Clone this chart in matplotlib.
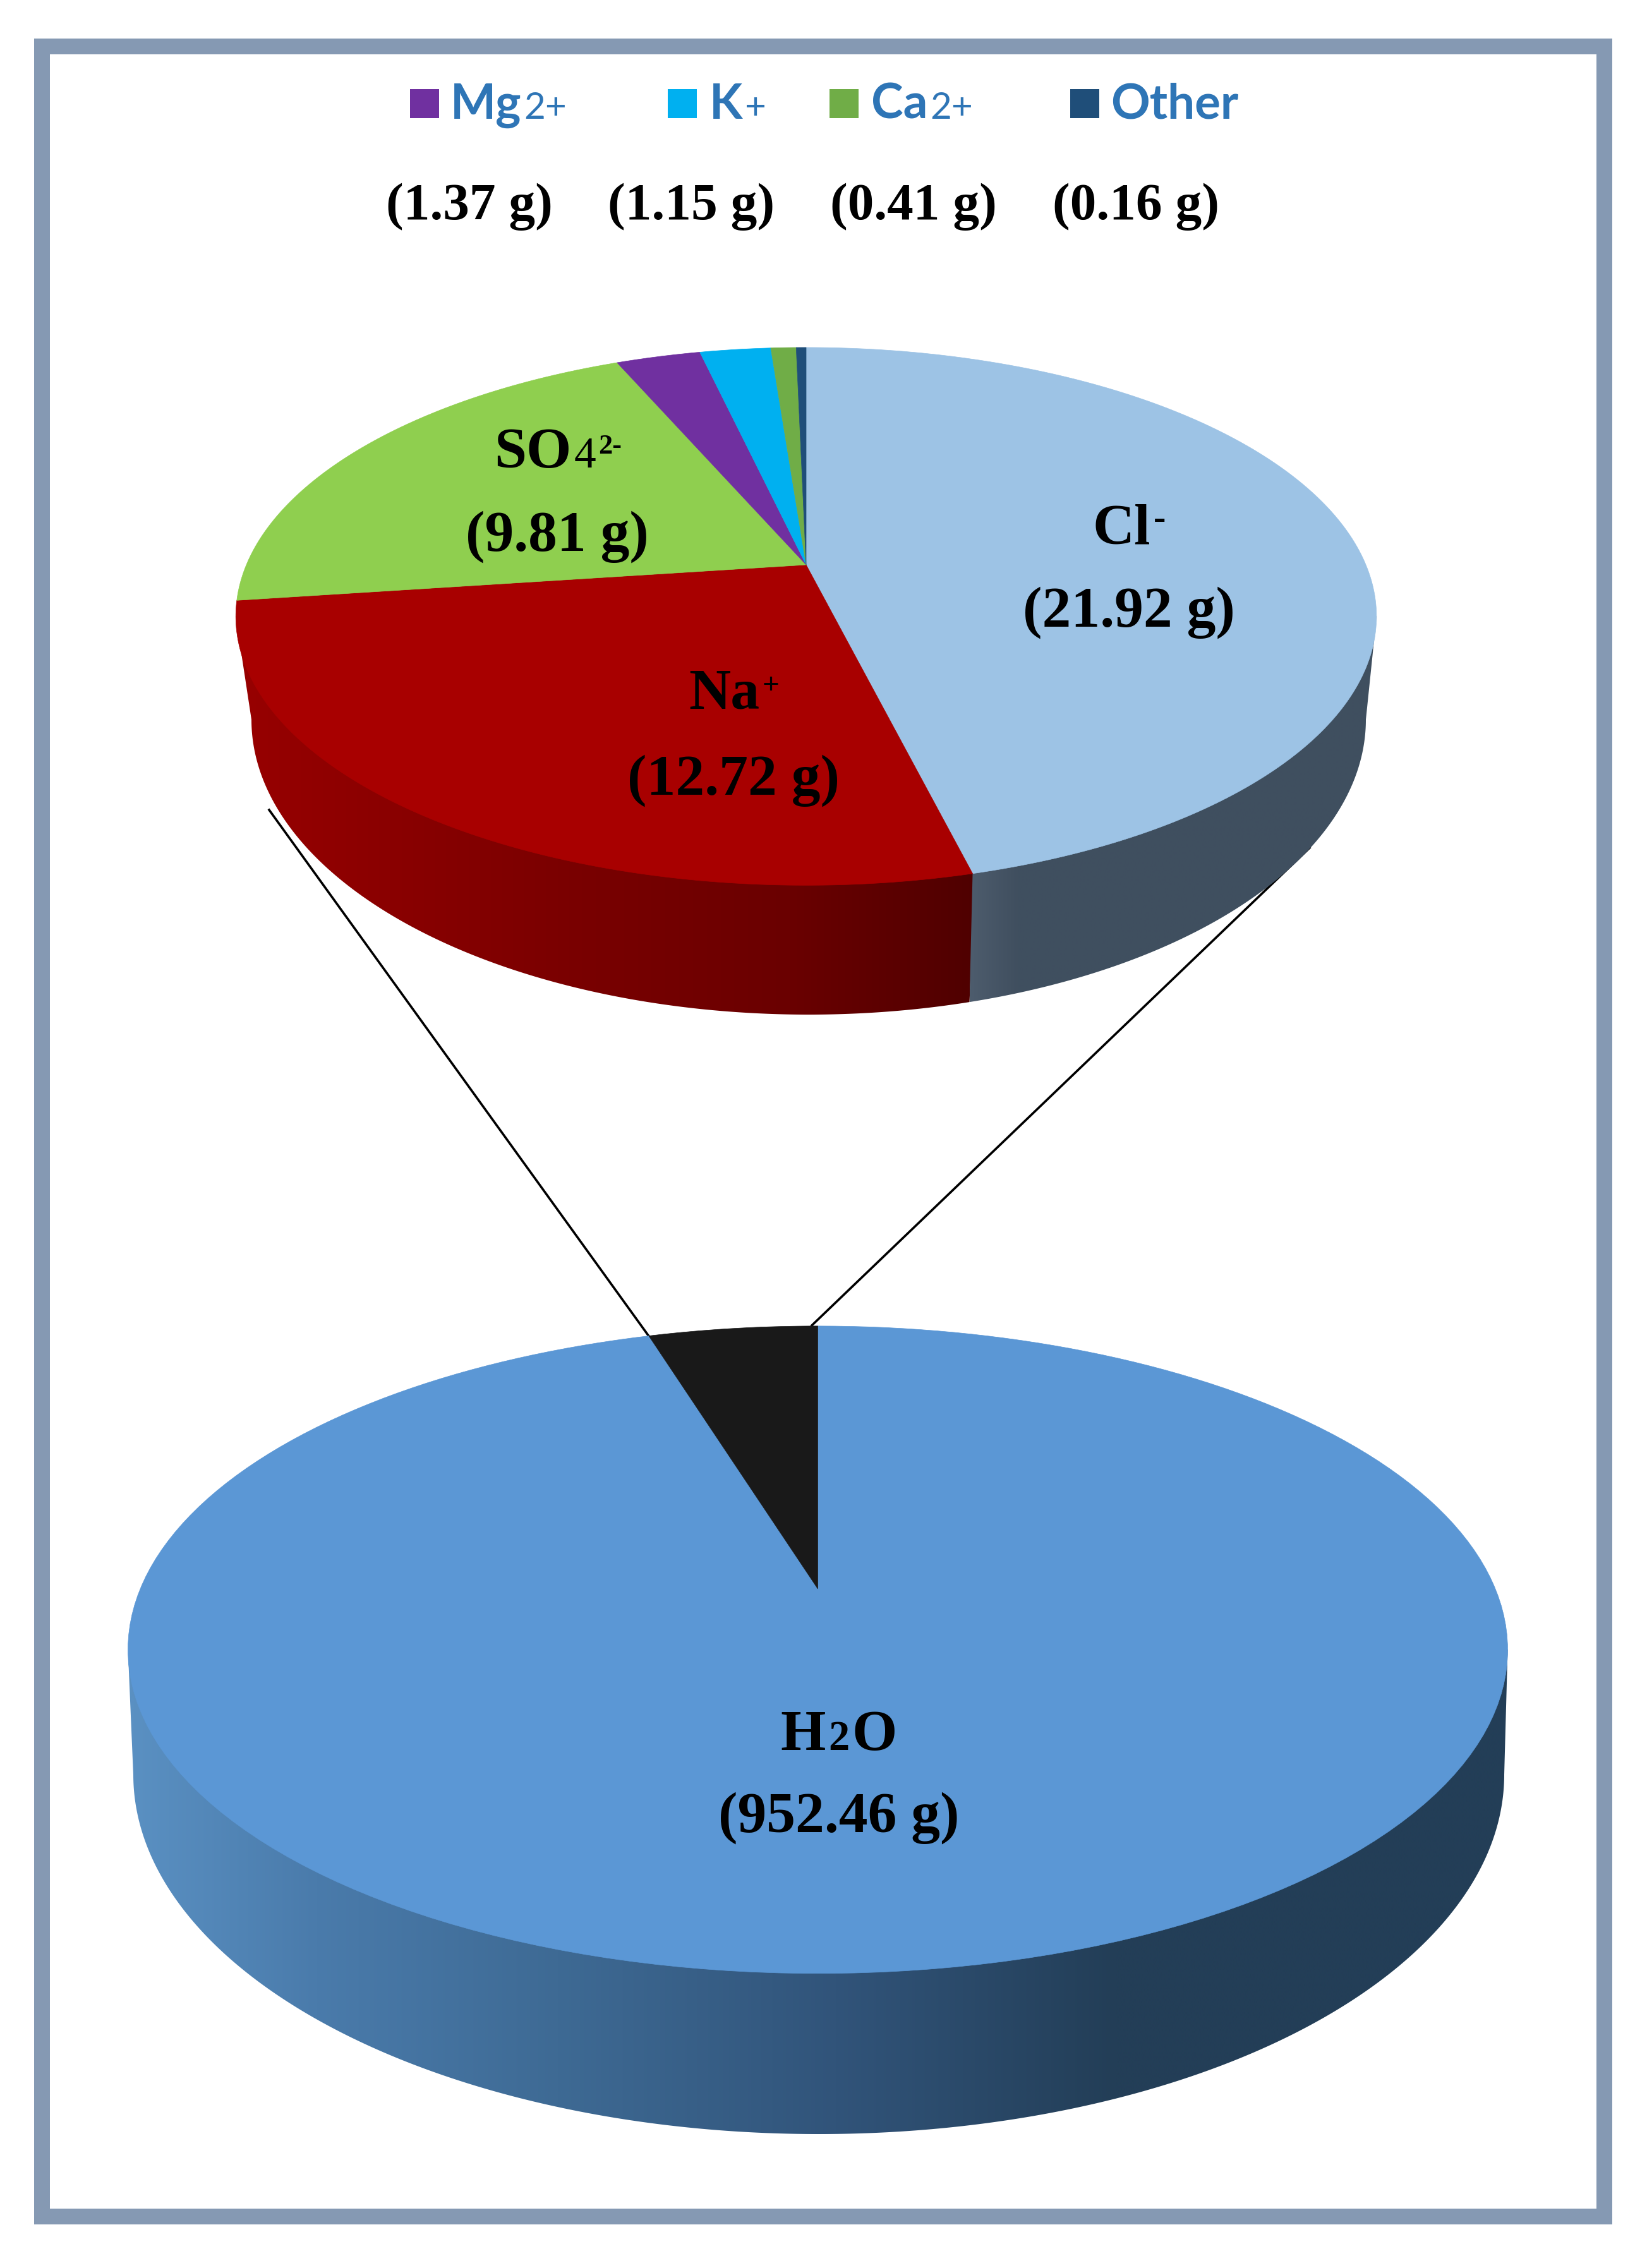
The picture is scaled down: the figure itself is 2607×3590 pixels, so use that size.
import numpy as np
import matplotlib
matplotlib.use('Agg')
import matplotlib.pyplot as plt
from matplotlib.patches import Polygon, Rectangle
from matplotlib.colors import to_rgb

# Data (grams)
ion_names = ['Cl', 'Na', 'SO4', 'Mg', 'K', 'Ca', 'Other']
ion_masses = [21.92, 12.72, 9.81, 1.37, 1.15, 0.41, 0.16]
ion_colors = ['#9DC3E5', '#A80000', '#8FCF4F', '#7030A0', '#00B0F0', '#70AD47', '#1F4E79']
water_masses = [952.46, 47.54]
water_colors = ['#5B97D5', '#191919']
legend_names = ['Mg', 'K', 'Ca', 'Other']
legend_sups = ['2+', '+', '2+', '']
legend_colors = ['#7030A0', '#00B0F0', '#70AD47', '#1F4E79']
small_masses = [1.37, 1.15, 0.41, 0.16]

SERIF = 'Liberation Serif'
SANS = 'Lato'
BLACK = '#000000'
LEG_BLUE = '#2E75B6'

fig = plt.figure(figsize=(26.07, 35.91), dpi=100)
ax = fig.add_axes([0, 0, 1, 1])
ax.set_xlim(0, 2607)
ax.set_ylim(3591, 0)
ax.axis('off')


# Perspective disc, angle is clockwise from the top
def disc_xy(theta, geo):
    s = np.cos(theta)
    c = np.sin(theta)
    w = 1 + geo['k'] * s
    return geo['cx'] + geo['a'] * c / w, geo['apex'] - geo['b'] * s / w


def gradient_fill(pts, stops):
    pts = np.asarray(pts)
    xs = np.linspace(pts[:, 0].min(), pts[:, 0].max(), 600)
    pos = [p for p, _ in stops]
    rgb = np.array([to_rgb(c) for _, c in stops])
    img = np.stack([np.interp(xs, pos, rgb[:, i]) for i in range(3)], axis=-1)[None, :, :]
    im = ax.imshow(img, extent=(xs[0], xs[-1], pts[:, 1].max(), pts[:, 1].min()),
                   aspect='auto', interpolation='bilinear', zorder=2)
    im.set_clip_path(Polygon(pts, closed=True, transform=ax.transData))


def lower_arc(geo):
    # left to right along the bottom of the wall
    phi = np.linspace(np.pi, 0, 500)
    return geo['wall_cx'] + geo['wall_rx'] * np.cos(phi), geo['wall_cy'] + geo['wall_ry'] * np.sin(phi)


def draw_wall(geo, stops):
    ax_x, ax_y = lower_arc(geo)
    left = [geo['cx'] - geo['extent'], geo['cy']]
    right = [geo['cx'] + geo['extent'], geo['cy']]
    pts = np.vstack([[left], np.column_stack([ax_x, ax_y]), [right]])
    gradient_fill(pts, stops)


def draw_split_wall(geo, split_theta, left_stops, right_stops):
    ax_x, ax_y = lower_arc(geo)
    sx, sy = disc_xy(split_theta, geo)
    low_x = sx - 6
    left = [geo['cx'] - geo['extent'], geo['cy']]
    right = [geo['cx'] + geo['extent'], geo['cy']]
    # the left part runs a little past the split, right part is drawn over it
    m = ax_x <= low_x + 4
    gradient_fill(np.vstack([[left], np.column_stack([ax_x[m], ax_y[m]]), [[sx + 4, sy]]]), left_stops)
    m = ax_x > low_x
    gradient_fill(np.vstack([[[sx, sy]], np.column_stack([ax_x[m], ax_y[m]]), [right]]), right_stops)


def draw_disc(values, colors, geo):
    edges = np.cumsum([0] + list(values)) / np.sum(values) * 2 * np.pi
    for i in range(len(values)):
        t = np.linspace(edges[i], edges[i + 1], 200)
        x, y = disc_xy(t, geo)
        px = np.r_[geo['cx'], x]
        py = np.r_[geo['apex'], y]
        ax.add_patch(Polygon(np.column_stack([px, py]), closed=True, facecolor=colors[i],
                             edgecolor=colors[i], linewidth=0.5, zorder=3))
    return edges


def rich_text(x, y, pieces, center=True):
    # pieces: (text, size, weight, family, color, raise)
    renderer = fig.canvas.get_renderer()
    items = []
    total = 0
    for txt, size, weight, family, color, up in pieces:
        t = ax.text(0, y - up, txt, fontsize=size, fontweight=weight, family=family,
                    color=color, va='baseline', ha='left', zorder=5)
        w = t.get_window_extent(renderer).width + size * 0.07
        items.append((t, w))
        total += w
    cur = x - total / 2 if center else x
    for t, w in items:
        t.set_x(cur)
        cur += w


top_geo = dict(cx=1276, apex=895, a=886, b=410, k=0.1918, cy=976, extent=903,
               wall_cx=1280, wall_cy=1140, wall_rx=882, wall_ry=467)
low_geo = dict(cx=1294.5, apex=2516, a=1072.5, b=494.3, k=0.188, cy=2612, extent=1092,
               wall_cx=1296, wall_cy=2810, wall_rx=1085, wall_ry=569)

# Frame
ax.add_patch(Rectangle((65.5, 73.5), 2473.5, 3436, facecolor='white', edgecolor='#8599B3',
                       linewidth=18, zorder=0))

# Connector lines run behind the small pie
ax.plot([426, 1027], [1283, 2116], color='black', lw=2.6, zorder=1)
ax.plot([2073, 1285], [1343, 2099], color='black', lw=2.6, zorder=1)

# Side walls
edges = np.cumsum([0] + ion_masses) / np.sum(ion_masses) * 2 * np.pi
draw_split_wall(top_geo, edges[1],
                [(370, '#980000'), (900, '#7A0000'), (1250, '#6A0000'), (1545, '#4F0000')],
                [(1530, '#4E5D6E'), (1610, '#404F5F'), (2200, '#3F4F60')])
draw_wall(low_geo, [(210, '#5A90C2'), (500, '#4A7BAB'), (883, '#3E6A94'), (1323, '#31547A'),
                    (1764, '#233E57'), (2400, '#233E57')])

draw_disc(ion_masses, ion_colors, top_geo)
draw_disc(water_masses, water_colors, low_geo)

# Legend
square_x = [649, 1057, 1313, 1694]
name_x = [713, 1123, 1379, 1758]
for i in range(len(legend_names)):
    ax.add_patch(Rectangle((square_x[i], 142), 46, 46, facecolor=legend_colors[i],
                           edgecolor='none', zorder=4))
    pieces = [(legend_names[i], 55, 'bold', SANS, LEG_BLUE, 0)]
    if legend_sups[i]:
        pieces.append((legend_sups[i], 42, 'normal', SANS, LEG_BLUE, 0))
    rich_text(name_x[i], 188, pieces, center=False)

for cx, m in zip([745, 1096, 1448, 1800], small_masses):
    rich_text(cx, 347, [(f'({m:.2f} g)', 60, 'bold', SERIF, BLACK, 0)])

# Labels inside pies
BIG = 66
rich_text(1789, 861, [('Cl', BIG, 'bold', SERIF, BLACK, 0), ('-', 42, 'bold', SERIF, BLACK, 24)])
rich_text(1789, 992, [(f'({ion_masses[0]:.2f} g)', BIG, 'bold', SERIF, BLACK, 0)])
rich_text(1163, 1122, [('Na', BIG, 'bold', SERIF, BLACK, 0), ('+', 34, 'bold', SERIF, BLACK, 24)])
rich_text(1163, 1258, [(f'({ion_masses[1]:.2f} g)', BIG, 'bold', SERIF, BLACK, 0)])
rich_text(884, 740, [('SO', BIG, 'bold', SERIF, BLACK, 0), ('4', 50, 'normal', SERIF, BLACK, 0),
                     ('2-', 32, 'bold', SERIF, BLACK, 22)])
rich_text(884, 872, [(f'({ion_masses[2]:.2f} g)', BIG, 'bold', SERIF, BLACK, 0)])
rich_text(1330, 2770, [('H', BIG, 'bold', SERIF, BLACK, 0), ('2', 48, 'bold', SERIF, BLACK, 0),
                       ('O', BIG, 'bold', SERIF, BLACK, 0)])
rich_text(1330, 2900, [(f'({water_masses[0]:.2f} g)', BIG, 'bold', SERIF, BLACK, 0)])

fig.savefig('out.png', dpi=100)
